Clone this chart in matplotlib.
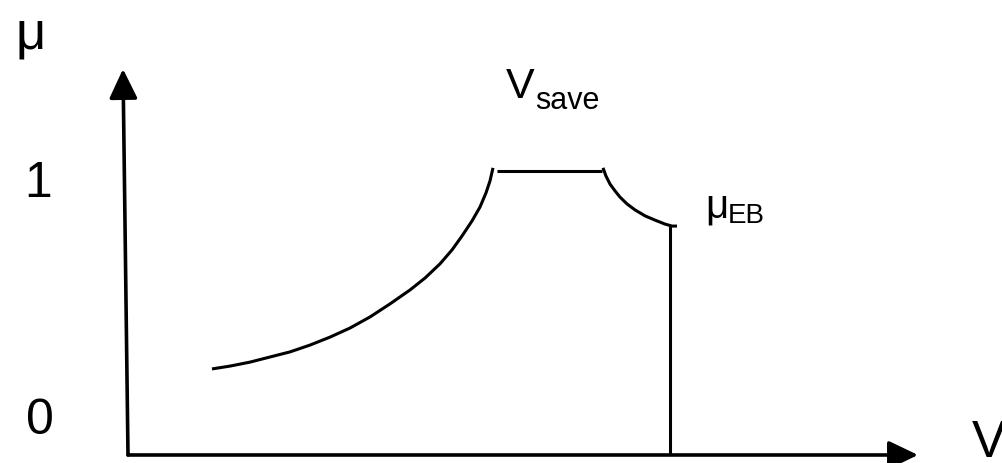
import matplotlib
matplotlib.use("Agg")
import matplotlib.pyplot as plt

plt.rcParams['font.family'] = ['Liberation Sans', 'DejaVu Sans']

# schematic friction coefficient mu over speed V (arbitrary units)
rise_v = [0.84, 1.02, 1.22, 1.42, 1.62, 1.82, 2.02, 2.22, 2.42, 2.62,
          2.82, 2.97, 3.12, 3.24, 3.34, 3.44, 3.52, 3.58, 3.62, 3.65]
rise_mu = [0.303, 0.313, 0.327, 0.345, 0.363, 0.387, 0.415, 0.447, 0.486, 0.532,
           0.581, 0.623, 0.673, 0.722, 0.771, 0.824, 0.873, 0.923, 0.965, 1.011]

flat_v = [3.69, 4.74]
flat_mu = [1.0, 1.0]

fall_v = [4.75, 4.78, 4.82, 4.87, 4.92, 4.99, 5.07, 5.17, 5.27, 5.37, 5.44, 5.49]
fall_mu = [1.011, 0.982, 0.954, 0.930, 0.908, 0.884, 0.863, 0.842, 0.827, 0.813,
           0.806, 0.806]

drop_v = [5.42, 5.42]
drop_mu = [0.806, 0.0]

# axis ends
y_axis_top = (-0.05, 1.359)
x_axis_end = (7.90, 0.0)

fig = plt.figure(figsize=(10.03, 4.63), dpi=100)
ax = fig.add_axes([0, 0, 1, 1])
ax.set_xlim(-1.28, 8.75)
ax.set_ylim(-0.0282, 1.602)
ax.axis('off')

lw = 2.2
for xs, ys in [(rise_v, rise_mu), (flat_v, flat_mu), (fall_v, fall_mu), (drop_v, drop_mu)]:
    ax.plot(xs, ys, color='black', lw=lw, solid_capstyle='butt', solid_joinstyle='round')

arrow = dict(arrowstyle='-|>,head_length=1.0,head_width=0.48',
             mutation_scale=18, color='black', lw=2.6, shrinkA=0, shrinkB=0)
ax.annotate('', xy=y_axis_top, xytext=(0, 0), arrowprops=arrow)
ax.annotate('', xy=x_axis_end, xytext=(0, 0), arrowprops=arrow)

ax.text(-1.13, 1.430, 'μ', fontsize=38, ha='left', va='baseline')
ax.text(-0.90, 0.908, '1', fontsize=36, ha='center', va='baseline')
ax.text(-0.88, 0.074, '0', fontsize=36, ha='center', va='baseline')
ax.text(3.78, 1.257, 'V', fontsize=31, ha='left', va='baseline')
ax.text(4.07, 1.218, 'save', fontsize=22, ha='left', va='baseline')
ax.text(5.77, 0.835, 'μ', fontsize=29, ha='left', va='baseline')
ax.text(6.00, 0.817, 'EB', fontsize=20, ha='left', va='baseline')
ax.text(8.44, -0.007, 'V', fontsize=37, ha='left', va='baseline')

fig.savefig('out.png', dpi=100)
